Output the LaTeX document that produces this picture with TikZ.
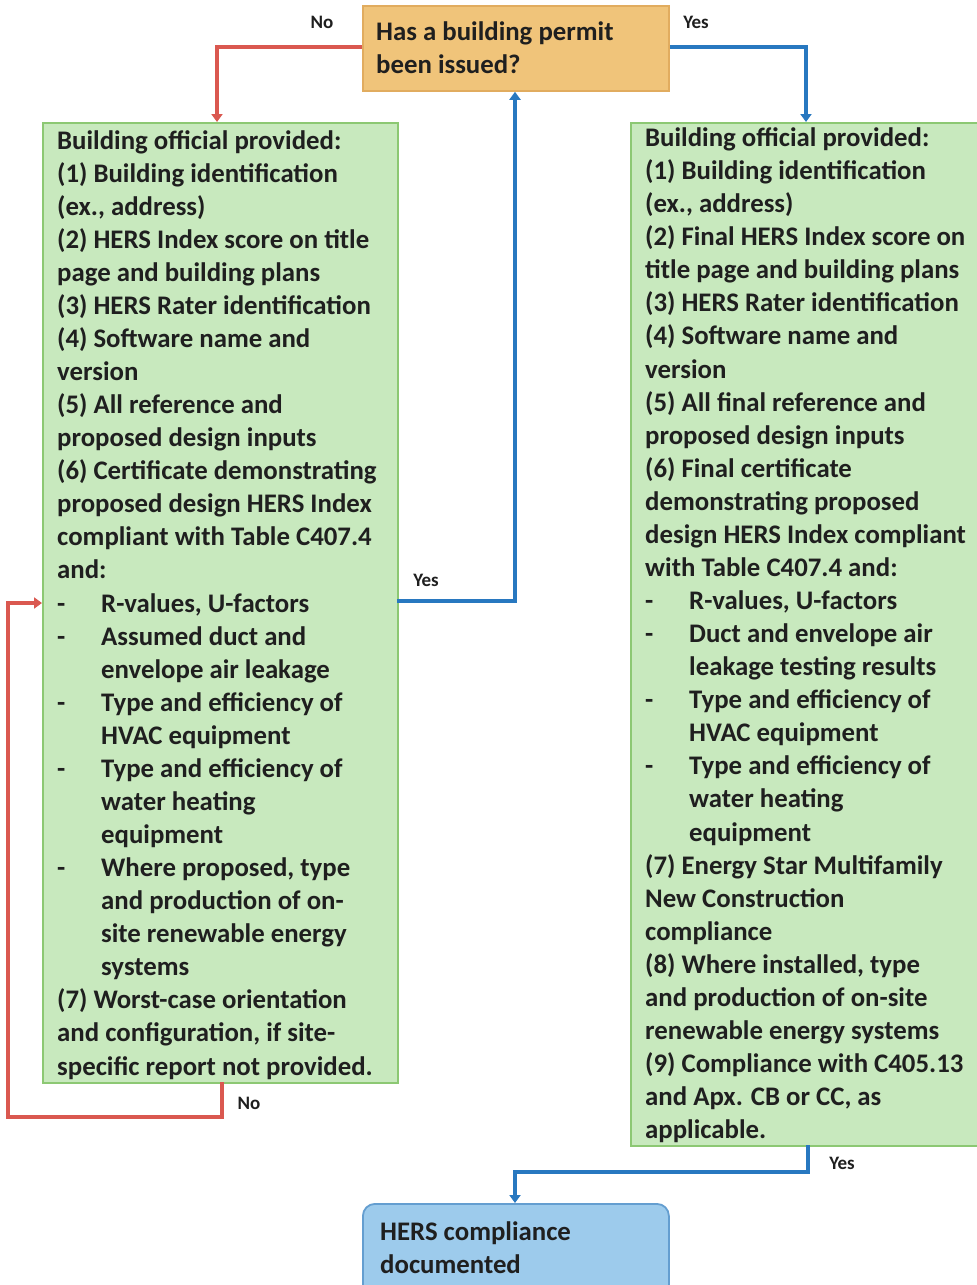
\documentclass[tikz,border=0pt]{standalone}
\usepackage{fontspec}
\setmainfont{Carlito}
\usetikzlibrary{arrows.meta}
\definecolor{boxgreen}{RGB}{200,233,190}
\definecolor{edgegreen}{RGB}{140,200,115}
\definecolor{boxorange}{RGB}{240,196,122}
\definecolor{edgeorange}{RGB}{225,172,95}
\definecolor{boxblue}{RGB}{157,203,236}
\definecolor{edgeblue}{RGB}{100,158,208}
\definecolor{yesblue}{RGB}{40,120,192}
\definecolor{nored}{RGB}{218,88,80}
\newcommand{\bul}{\makebox[44pt][l]{-}}
\newcommand{\ind}{\hspace*{44pt}}
\begin{document}
\begin{tikzpicture}[x=1pt,y=-1pt,
  panel/.style={draw=edgegreen,fill=boxgreen,line width=1.8pt,inner sep=0pt},
  txt/.style={anchor=north west,inner sep=0pt,align=left,
    font=\fontsize{26.8}{33.07}\selectfont\bfseries,text=black!88},
  tag/.style={font=\fontsize{19}{22}\selectfont\bfseries,text=black!88,inner sep=0pt},
  yesline/.style={draw=yesblue,line width=3.2pt,-{Triangle[width=11pt,length=8pt]}},
  noline/.style={draw=nored,line width=3.2pt,-{Triangle[width=11pt,length=8pt]}}]
\useasboundingbox (0,0) rectangle (977,1285);
\fill[white] (0,0) rectangle (977,1285);

% question box
\node[draw=edgeorange,fill=boxorange,line width=1.8pt,anchor=north west,
  minimum width=306pt,minimum height=85pt,inner sep=0pt] (q) at (362,5) {};
\node[txt] (qt) at (376,21.5) {Has a building permit\\been issued?};

% left panel: no permit yet
\node[panel,anchor=north west,minimum width=355pt,minimum height=960pt] (L) at (42,122) {};
\node[txt] (Lt) at (57,130) {Building official provided:\\
(1) Building identification\\
(ex., address)\\
(2) HERS Index score on title\\
page and building plans\\
(3) HERS Rater identification\\
(4) Software name and\\
version\\
(5) All reference and\\
proposed design inputs\\
(6) Certificate demonstrating\\
proposed design HERS Index\\
compliant with Table C407.4\\
and:\\
\bul R-values, U-factors\\
\bul Assumed duct and\\
\ind envelope air leakage\\
\bul Type and efficiency of\\
\ind HVAC equipment\\
\bul Type and efficiency of\\
\ind water heating\\
\ind equipment\\
\bul Where proposed, type\\
\ind and production of on-\\
\ind site renewable energy\\
\ind systems\\
(7) Worst-case orientation\\
and configuration, if site-\\
specific report not provided.};

% right panel: permit issued
\node[panel,anchor=north west,minimum width=362pt,minimum height=1023pt] (R) at (630,122) {};
\node[txt] (Rt) at (645,127.5) {Building official provided:\\
(1) Building identification\\
(ex., address)\\
(2) Final HERS Index score on\\
title page and building plans\\
(3) HERS Rater identification\\
(4) Software name and\\
version\\
(5) All final reference and\\
proposed design inputs\\
(6) Final certificate\\
demonstrating proposed\\
design HERS Index compliant\\
with Table C407.4 and:\\
\bul R-values, U-factors\\
\bul Duct and envelope air\\
\ind leakage testing results\\
\bul Type and efficiency of\\
\ind HVAC equipment\\
\bul Type and efficiency of\\
\ind water heating\\
\ind equipment\\
(7) Energy Star Multifamily\\
New Construction\\
compliance\\
(8) Where installed, type\\
and production of on-site\\
renewable energy systems\\
(9) Compliance with C405.13\\
and Apx. CB or CC, as\\
applicable.};

% end state
\node[draw=edgeblue,fill=boxblue,line width=1.8pt,rounded corners=12pt,anchor=north west,
  minimum width=306pt,minimum height=100pt,inner sep=0pt] (E) at (362,1203) {};
\node[txt] (Et) at (380,1221) {HERS compliance\\documented};

% connectors
\coordinate (qL) at (q.west |- 0,47);
\coordinate (qR) at (q.east |- 0,47);
\draw[noline] (qL) -| (217,122);
\draw[yesline] (qR) -| (806,122);
\draw[yesline] (397,601) -| (q.south -| 515,0);
\draw[noline] (222,1082) -- (222,1117) -- (8,1117) |- (42,603);
\draw[yesline] (808,1145) -- (808,1172) -| (515,1203);

% branch labels
\node[tag] (n1) at (322,22) {No};
\node[tag] (y1) at (696,22) {Yes};
\node[tag] (y2) at (426,580) {Yes};
\node[tag] (n2) at (249,1103) {No};
\node[tag] (y3) at (842,1163) {Yes};
\end{tikzpicture}
\end{document}
